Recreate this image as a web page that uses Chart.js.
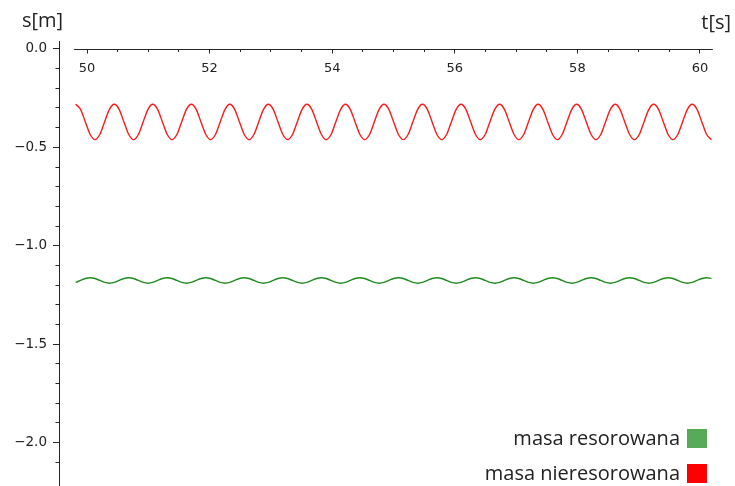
<!DOCTYPE html>
<html>
<head>
<meta charset="utf-8">
<title>s(t)</title>
<script src="https://cdn.jsdelivr.net/npm/chart.js@4.4.0/dist/chart.umd.min.js"></script>
<style>
  html, body { margin: 0; padding: 0; background: #fff; }
  #wrap { width: 735px; height: 486px; position: relative; }
</style>
</head>
<body>
<div id="wrap"><canvas id="myChart"></canvas></div>
<script>
// time samples [s] (8 per oscillation)
var time = [
    49.816, 49.895, 49.973, 50.052, 50.130, 50.209, 50.287, 50.366,
    50.445, 50.524, 50.602, 50.681, 50.759, 50.838, 50.916, 50.995,
    51.073, 51.152, 51.230, 51.309, 51.387, 51.466, 51.544, 51.623,
    51.702, 51.781, 51.859, 51.938, 52.016, 52.095, 52.173, 52.252,
    52.330, 52.409, 52.487, 52.566, 52.644, 52.723, 52.801, 52.880,
    52.959, 53.038, 53.116, 53.195, 53.273, 53.352, 53.430, 53.509,
    53.588, 53.667, 53.745, 53.824, 53.902, 53.981, 54.059, 54.138,
    54.216, 54.295, 54.373, 54.452, 54.530, 54.609, 54.687, 54.766,
    54.845, 54.924, 55.002, 55.081, 55.159, 55.238, 55.316, 55.395,
    55.473, 55.552, 55.630, 55.709, 55.787, 55.866, 55.944, 56.023,
    56.102, 56.181, 56.259, 56.338, 56.416, 56.495, 56.573, 56.652,
    56.731, 56.810, 56.888, 56.967, 57.045, 57.124, 57.202, 57.281,
    57.359, 57.438, 57.516, 57.595, 57.673, 57.752, 57.830, 57.909,
    57.988, 58.067, 58.145, 58.224, 58.302, 58.381, 58.459, 58.538,
    58.616, 58.695, 58.773, 58.852, 58.930, 59.009, 59.087, 59.166,
    59.245, 59.324, 59.402, 59.481, 59.559, 59.638, 59.716, 59.795,
    59.873, 59.952, 60.030, 60.109, 60.187
]

// masa nieresorowana [m]
var unsprung = [
    -0.281, -0.307, -0.371, -0.435, -0.461, -0.435, -0.371, -0.307,
    -0.281, -0.307, -0.371, -0.435, -0.461, -0.435, -0.371, -0.307,
    -0.281, -0.307, -0.371, -0.435, -0.461, -0.435, -0.371, -0.307,
    -0.281, -0.307, -0.371, -0.435, -0.461, -0.435, -0.371, -0.307,
    -0.281, -0.307, -0.371, -0.435, -0.461, -0.435, -0.371, -0.307,
    -0.281, -0.307, -0.371, -0.435, -0.461, -0.435, -0.371, -0.307,
    -0.281, -0.307, -0.371, -0.435, -0.461, -0.435, -0.371, -0.307,
    -0.281, -0.307, -0.371, -0.435, -0.461, -0.435, -0.371, -0.307,
    -0.281, -0.307, -0.371, -0.435, -0.461, -0.435, -0.371, -0.307,
    -0.281, -0.307, -0.371, -0.435, -0.461, -0.435, -0.371, -0.307,
    -0.281, -0.307, -0.371, -0.435, -0.461, -0.435, -0.371, -0.307,
    -0.281, -0.307, -0.371, -0.435, -0.461, -0.435, -0.371, -0.307,
    -0.281, -0.307, -0.371, -0.435, -0.461, -0.435, -0.371, -0.307,
    -0.281, -0.307, -0.371, -0.435, -0.461, -0.435, -0.371, -0.307,
    -0.281, -0.307, -0.371, -0.435, -0.461, -0.435, -0.371, -0.307,
    -0.281, -0.307, -0.371, -0.435, -0.461, -0.435, -0.371, -0.307,
    -0.281, -0.307, -0.371, -0.435, -0.461
]

// masa resorowana [m]
var sprung = [
    -1.186, -1.176, -1.166, -1.162, -1.166, -1.176, -1.186, -1.190,
    -1.186, -1.176, -1.166, -1.162, -1.166, -1.176, -1.186, -1.190,
    -1.186, -1.176, -1.166, -1.162, -1.166, -1.176, -1.186, -1.190,
    -1.186, -1.176, -1.166, -1.162, -1.166, -1.176, -1.186, -1.190,
    -1.186, -1.176, -1.166, -1.162, -1.166, -1.176, -1.186, -1.190,
    -1.186, -1.176, -1.166, -1.162, -1.166, -1.176, -1.186, -1.190,
    -1.186, -1.176, -1.166, -1.162, -1.166, -1.176, -1.186, -1.190,
    -1.186, -1.176, -1.166, -1.162, -1.166, -1.176, -1.186, -1.190,
    -1.186, -1.176, -1.166, -1.162, -1.166, -1.176, -1.186, -1.190,
    -1.186, -1.176, -1.166, -1.162, -1.166, -1.176, -1.186, -1.190,
    -1.186, -1.176, -1.166, -1.162, -1.166, -1.176, -1.186, -1.190,
    -1.186, -1.176, -1.166, -1.162, -1.166, -1.176, -1.186, -1.190,
    -1.186, -1.176, -1.166, -1.162, -1.166, -1.176, -1.186, -1.190,
    -1.186, -1.176, -1.166, -1.162, -1.166, -1.176, -1.186, -1.190,
    -1.186, -1.176, -1.166, -1.162, -1.166, -1.176, -1.186, -1.190,
    -1.186, -1.176, -1.166, -1.162, -1.166, -1.176, -1.186, -1.190,
    -1.186, -1.176, -1.166, -1.162, -1.166
]

var seriesNames = ['masa resorowana', 'masa nieresorowana']
var xRange = [49.543, 60.245]
var yRange = [-2.22, 0.04]
var xAxisSpan = [49.79, 60.21]

function points(ys) {
    var pts = []
    for (let i = 0; i < time.length; i++) {
        pts.push({ x: time[i], y: ys[i] })
    }
    return pts
}

function fmt(v) {
    return v.toFixed(1).replace('-', '\u2212')
}

var axisColor = '#262626'
var tickFont = { family: 'DejaVu Sans', size: 13 }

// axes placed on the plot must not take layout room
function noRoom(scale) {
    if (scale.isHorizontal()) scale.height = 0
    else scale.width = 0
    scale.paddingTop = 0
    scale.paddingBottom = 0
    scale.paddingLeft = 0
    scale.paddingRight = 0
}

// x axis line, axis names and the legend
var decorations = {
    id: 'decorations',
    afterDraw: function (chart) {
        const ctx = chart.ctx
        const x = chart.scales.x
        const y = chart.scales.y
        const y0 = Math.round(y.getPixelForValue(0)) + 0.5
        ctx.save()
        ctx.strokeStyle = axisColor
        ctx.lineWidth = 1
        ctx.beginPath()
        ctx.moveTo(x.getPixelForValue(xAxisSpan[0]), y0)
        ctx.lineTo(x.getPixelForValue(xAxisSpan[1]), y0)
        ctx.stroke()

        ctx.fillStyle = '#222'
        ctx.font = '20px "Open Sans"'
        ctx.textBaseline = 'alphabetic'
        ctx.textAlign = 'left'
        ctx.fillText('s[m]', 22, 27)
        ctx.textAlign = 'right'
        ctx.fillText('t[s]', 731, 29)

        const boxes = ['#57aa57', '#ff0000']
        const rows = [445, 480]
        for (let i = 0; i < seriesNames.length; i++) {
            ctx.fillStyle = '#222'
            ctx.textAlign = 'right'
            ctx.fillText(seriesNames[i], 680, rows[i])
            ctx.fillStyle = boxes[i]
            ctx.fillRect(687, rows[i] - 16, 20, 19)
        }
        ctx.restore()
    }
}

const ctx = document.getElementById('myChart').getContext('2d')
const myChart = new Chart(ctx, {
    type: 'line',
    data: {
        datasets: [{
            label: seriesNames[0],
            data: points(sprung),
            borderColor: '#1f8c1f',
            borderWidth: 1.4,
            pointRadius: 0,
            cubicInterpolationMode: 'monotone'
        }, {
            label: seriesNames[1],
            data: points(unsprung),
            borderColor: '#ff1a1a',
            borderWidth: 1.4,
            pointRadius: 0,
            cubicInterpolationMode: 'monotone'
        }]
    },
    options: {
        responsive: true,
        maintainAspectRatio: false,
        animation: false,
        layout: { padding: { top: 41, right: 20, bottom: 0, left: 0 } },
        plugins: {
            legend: { display: false },
            tooltip: { enabled: false }
        },
        scales: {
            x: {
                type: 'linear',
                position: { y: 0 },
                min: xRange[0],
                max: xRange[1],
                afterFit: noRoom,
                border: { display: false },
                grid: { drawOnChartArea: false, tickLength: 4.5, tickColor: axisColor },
                ticks: {
                    stepSize: 2,
                    includeBounds: false,
                    maxRotation: 0,
                    padding: 7,
                    color: '#222',
                    font: tickFont,
                    callback: function (v) { return String(v) }
                }
            },
            xMinor: {
                type: 'linear',
                position: { y: 0 },
                min: xRange[0],
                max: xRange[1],
                afterFit: noRoom,
                border: { display: false },
                grid: { drawOnChartArea: false, tickLength: 3, tickColor: axisColor },
                ticks: { display: false, stepSize: 0.5, includeBounds: false }
            },
            y: {
                position: 'left',
                min: yRange[0],
                max: yRange[1],
                afterFit: function (scale) {
                    scale.width = 59
                    scale.paddingTop = 0
                    scale.paddingBottom = 0
                },
                border: { display: true, color: axisColor, width: 1 },
                grid: { drawOnChartArea: false, tickLength: 6, tickColor: axisColor },
                ticks: {
                    stepSize: 0.5,
                    includeBounds: false,
                    padding: 6,
                    color: '#222',
                    font: { family: 'DejaVu Sans', size: 13.5 },
                    callback: function (v) { return fmt(v) }
                }
            },
            yMinor: {
                position: { x: xRange[0] },
                min: yRange[0],
                max: yRange[1],
                afterFit: noRoom,
                border: { display: false },
                grid: { drawOnChartArea: false, tickLength: 3.5, tickColor: axisColor },
                ticks: { display: false, stepSize: 0.1, includeBounds: false },
                afterBuildTicks: function (scale) {
                    scale.ticks = scale.ticks.filter(function (t) { return t.value > -2.15 })
                }
            }
        }
    },
    plugins: [decorations]
});
</script>
</body>
</html>
